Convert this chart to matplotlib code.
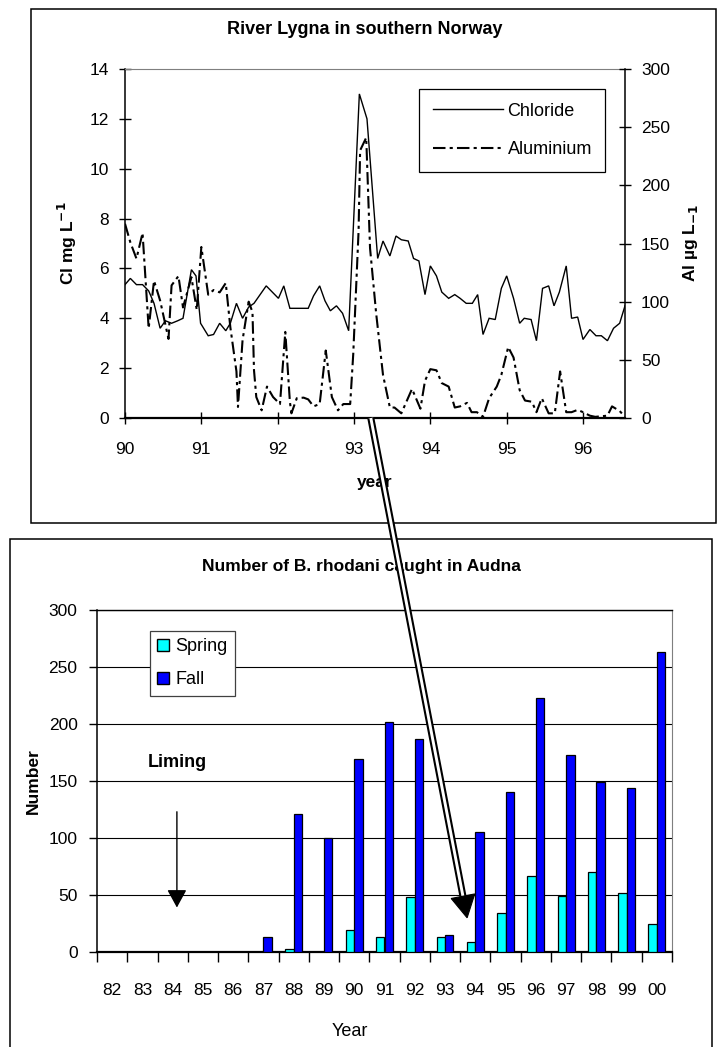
import matplotlib
matplotlib.use("Agg")
import matplotlib.pyplot as plt
import numpy as np
from matplotlib.patches import Rectangle, Polygon, Patch
from matplotlib.lines import Line2D
from matplotlib.transforms import IdentityTransform

plt.rcParams['font.family'] = ['Liberation Sans', 'DejaVu Sans']

# ---------------- data: River Lygna ----------------
cl_year = [90.00, 90.07, 90.15, 90.23, 90.31, 90.38, 90.46, 90.53, 90.61, 90.69,
           90.76, 90.87, 90.93, 90.99, 91.09, 91.16, 91.24, 91.32, 91.38, 91.46,
           91.54, 91.62, 91.69, 91.77, 91.85, 91.93, 92.01, 92.08, 92.16, 92.23,
           92.31, 92.40, 92.47, 92.55, 92.62, 92.69, 92.77, 92.85, 92.93, 93.07,
           93.17, 93.31, 93.38, 93.47, 93.55, 93.62, 93.71, 93.78, 93.85, 93.93,
           94.00, 94.08, 94.15, 94.24, 94.32, 94.39, 94.47, 94.55, 94.62, 94.69,
           94.77, 94.85, 94.93, 95.00, 95.09, 95.17, 95.23, 95.32, 95.39, 95.47,
           95.55, 95.62, 95.69, 95.78, 95.85, 95.93, 96.00, 96.09, 96.17, 96.24,
           96.32, 96.40, 96.48, 96.55]
cl_mg = [5.35, 5.6, 5.35, 5.35, 5.1, 4.6, 3.6, 3.9, 3.8, 3.9,
         4.0, 5.95, 5.7, 3.8, 3.3, 3.35, 3.8, 3.5, 3.8, 4.6,
         4.0, 4.45, 4.6, 4.95, 5.3, 5.05, 4.8, 5.3, 4.4, 4.4,
         4.4, 4.4, 4.9, 5.3, 4.7, 4.3, 4.5, 4.2, 3.5, 13.0,
         12.0, 6.4, 7.1, 6.5, 7.3, 7.15, 7.1, 6.4, 6.3, 4.95,
         6.1, 5.7, 5.05, 4.8, 4.95, 4.8, 4.6, 4.6, 4.95, 3.35,
         4.0, 3.95, 5.2, 5.7, 4.8, 3.8, 4.0, 3.95, 3.1, 5.2,
         5.3, 4.5, 5.05, 6.1, 4.0, 4.05, 3.15, 3.55, 3.3, 3.3,
         3.1, 3.6, 3.8, 4.5]

al_year = [90.00, 90.07, 90.15, 90.23, 90.31, 90.38, 90.46, 90.57, 90.61, 90.70,
           90.76, 90.87, 90.94, 91.00, 91.09, 91.16, 91.24, 91.32, 91.38, 91.46,
           91.48, 91.54, 91.62, 91.67, 91.69, 91.72, 91.79, 91.86, 91.94, 92.03,
           92.10, 92.16, 92.18, 92.25, 92.34, 92.40, 92.47, 92.55, 92.63, 92.71,
           92.79, 92.86, 92.95, 92.99, 93.06, 93.08, 93.16, 93.21, 93.29, 93.38,
           93.47, 93.53, 93.62, 93.76, 93.87, 93.93, 94.00, 94.08, 94.15, 94.24,
           94.32, 94.39, 94.48, 94.54, 94.61, 94.69, 94.77, 94.87, 94.93, 95.02,
           95.09, 95.17, 95.24, 95.33, 95.39, 95.46, 95.55, 95.63, 95.70, 95.78,
           95.85, 95.93, 96.00, 96.09, 96.16, 96.24, 96.32, 96.38, 96.48, 96.55]
al_ug = [167, 151, 137, 159, 77, 118, 101, 68, 114, 122,
         95, 121, 93, 147, 106, 110, 108, 116, 78, 40,
         9.5, 67, 100, 91, 41, 18, 6.6, 27, 18, 12,
         74, 14, 4, 17, 17.5, 16, 10, 12, 58, 18,
         6.6, 12, 12, 55, 161, 230, 241, 146, 90, 37,
         9, 9, 4, 25, 8, 32, 42, 41, 30, 27,
         9, 10, 13, 5, 5, 1, 17, 27, 37, 61,
         52, 24, 15, 14, 5, 17, 4, 4, 40, 5,
         5, 7, 5, 2, 1, 1.5, 2, 10, 6, 1]

year_ticks = [90, 91, 92, 93, 94, 95, 96]

# ---------------- data: B. rhodani in Audna ----------------
catch_years = ['82', '83', '84', '85', '86', '87', '88', '89', '90', '91',
               '92', '93', '94', '95', '96', '97', '98', '99', '00']
spring = [0, 0, 0, 0, 0, 0, 3, 0, 19, 13, 48, 13, 9, 34, 67, 49, 70, 52, 25]
fall = [0, 0, 0, 0, 0, 13, 121, 100, 169, 202, 187, 15, 105, 140, 223, 173, 149, 144, 263]

W, H = 718, 1047
fig = plt.figure(figsize=(W / 100, H / 100), dpi=100)


def px_rect(x0, y0, x1, y1):
    """Pixel box (origin top-left) -> figure-fraction [left, bottom, width, height]."""
    return [x0 / W, 1 - y1 / H, (x1 - x0) / W, (y1 - y0) / H]


# outer frames of the two panels
for (x0, y0, x1, y1) in [(31, 9, 716, 523), (10, 539, 712, 1052)]:
    fig.add_artist(Rectangle((x0 / W, 1 - y1 / H), (x1 - x0) / W, (y1 - y0) / H,
                             transform=fig.transFigure, fill=False,
                             edgecolor='black', linewidth=1.1, zorder=0))

FS = 12.5

# ---------------- top panel ----------------
ax1 = fig.add_axes(px_rect(125, 69, 625, 418))
ax1.plot(cl_year, cl_mg, color='black', lw=1.0, solid_joinstyle='miter')
ax1.set_xlim(90, 96.55)
ax1.set_ylim(0, 14)
ax1.set_yticks(np.arange(0, 15, 2))
ax1.set_xticks(year_ticks)
ax1.set_xticklabels([str(y) for y in year_ticks])
ax1.tick_params(axis='y', direction='inout', length=9, width=1, labelsize=FS, pad=7)
ax1.tick_params(axis='x', direction='inout', length=9, width=1, labelsize=FS, pad=13)
ax1.spines['top'].set_color('#7f7f7f')
ax1.spines['top'].set_linewidth(0.8)
ax1.spines['right'].set_visible(False)
ax1.spines['left'].set_linewidth(1.1)
ax1.spines['bottom'].set_linewidth(1.6)

ax2 = ax1.twinx()
ax2.plot(al_year, al_ug, color='black', lw=1.5, linestyle=(0, (6, 2, 1.5, 2)))
ax2.set_ylim(0, 300)
ax2.set_yticks(np.arange(0, 301, 50))
ax2.tick_params(axis='y', direction='inout', length=9, width=1, labelsize=FS, pad=7)
for s in ['left', 'top', 'bottom']:
    ax2.spines[s].set_visible(False)
ax2.spines['right'].set_linewidth(1.1)

leg_handles = [Line2D([], [], color='black', lw=1.0),
               Line2D([], [], color='black', lw=1.5, linestyle=(0, (6, 2, 1.5, 2)))]
leg1 = ax2.legend(leg_handles, ['Chloride', 'Aluminium'], loc='upper left',
                  bbox_to_anchor=((419 - 125) / 500, (418 - 89) / 349),
                  bbox_transform=ax1.transAxes, borderaxespad=0, fancybox=False,
                  edgecolor='black', framealpha=1, fontsize=13, handlelength=3.9,
                  handletextpad=0.25, labelspacing=1.2, borderpad=0.75)
leg1.get_frame().set_linewidth(0.9)

fig.text(365 / W, 1 - 30 / H, 'River Lygna in southern Norway', ha='center',
         va='center', fontsize=13, fontweight='bold')
fig.text(67 / W, 1 - 243 / H, 'Cl mg L$^{\\mathbf{-1}}$', rotation=90, ha='center',
         va='center', fontsize=12.5, fontweight='bold')
fig.text(690 / W, 1 - 243 / H, 'Al \u00b5g L$_{\\mathbf{-1}}$', rotation=90, ha='center',
         va='center', fontsize=12.5, fontweight='bold')
fig.text(375 / W, 1 - 482 / H, 'year', ha='center', va='center', fontsize=12.5,
         fontweight='bold')

# ---------------- bottom panel ----------------
ax3 = fig.add_axes(px_rect(97, 610, 672, 952))
x = np.arange(len(catch_years))
bw = 0.28
ax3.bar(x - bw / 2, spring, bw, color='#00FFFF', edgecolor='black', linewidth=0.9, zorder=3)
ax3.bar(x + bw / 2, fall, bw, color='#0000FF', edgecolor='black', linewidth=0.9, zorder=3)
ax3.set_xlim(-0.5, len(catch_years) - 0.5)
ax3.set_ylim(0, 300)
ax3.set_yticks(np.arange(0, 301, 50))
ax3.yaxis.grid(True, color='black', linewidth=0.8, zorder=0)
ax3.set_axisbelow(True)
ax3.set_xticks(x)
ax3.set_xticklabels(catch_years)
ax3.set_xticks(np.arange(-0.5, len(catch_years), 1.0), minor=True)
ax3.tick_params(axis='x', which='major', length=0, labelsize=FS, pad=22)
ax3.tick_params(axis='x', which='minor', direction='out', length=7, width=1)
ax3.tick_params(axis='y', direction='out', length=6, width=1, labelsize=FS, pad=8)
ax3.spines['right'].set_color('#7f7f7f')
ax3.spines['top'].set_linewidth(1.0)
ax3.spines['left'].set_linewidth(1.1)
ax3.spines['bottom'].set_linewidth(1.6)

leg2 = ax3.legend([Patch(facecolor='#00FFFF', edgecolor='black'),
                   Patch(facecolor='#0000FF', edgecolor='black')],
                  ['Spring', 'Fall'], loc='upper left',
                  bbox_to_anchor=((150 - 97) / 575, (952 - 631) / 342),
                  borderaxespad=0, fancybox=False, edgecolor='#404040', framealpha=1,
                  fontsize=13, handlelength=0.65, handleheight=0.65,
                  handletextpad=0.35, labelspacing=0.9, borderpad=0.4)
leg2.get_frame().set_linewidth(0.9)

ax3.annotate('', xy=(2.14, 39), xytext=(2.14, 123),
             arrowprops=dict(arrowstyle='-|>,head_length=0.55,head_width=0.3',
                             color='black', lw=1.0, mutation_scale=20, shrinkA=0, shrinkB=0))
ax3.text(2.14, 166, 'Liming', ha='center', va='center', fontsize=13, fontweight='bold')

fig.text(361 / W, 1 - 567 / H, 'Number of B. rhodani caught in Audna', ha='center',
         va='center', fontsize=12.5, fontweight='bold')
fig.text(33 / W, 1 - 781 / H, 'Number', rotation=90, ha='center', va='center',
         fontsize=12.5, fontweight='bold')
fig.text(350 / W, 1 - 1032 / H, 'Year', ha='center', va='center', fontsize=13)

# ---------------- hollow arrow linking the 1993 aluminium peak to the catch data ----------------
pA = np.array(ax1.transData.transform((93.22, 0.0)))
pB = np.array(ax3.transData.transform((11.73, 30.0)))
u = (pB - pA) / np.linalg.norm(pB - pA)
n = np.array([-u[1], u[0]])
head_len, head_half, gap = 22.0, 12.0, 2.5
base = pB - u * head_len
ident = IdentityTransform()
fig.add_artist(Line2D([pA[0], base[0]], [pA[1], base[1]], color='white',
                      lw=2 * gap * 0.72, transform=ident, zorder=10,
                      solid_capstyle='butt'))
for sgn in (1, -1):
    a = pA + sgn * gap * n
    b = base + sgn * gap * n
    fig.add_artist(Line2D([a[0], b[0]], [a[1], b[1]], color='black', lw=1.5,
                          transform=ident, zorder=11, solid_capstyle='butt'))
fig.add_artist(Polygon([pB, base + head_half * n, base - head_half * n], closed=True,
                       facecolor='black', edgecolor='black', lw=0.8,
                       transform=ident, zorder=12))

fig.savefig('out.png', dpi=100)
